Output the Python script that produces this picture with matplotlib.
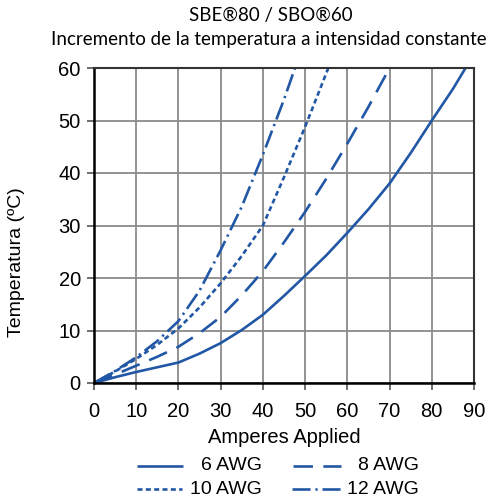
import matplotlib
matplotlib.use("Agg")
import matplotlib.pyplot as plt
from matplotlib.lines import Line2D

plt.rcParams['lines.scale_dashes'] = False

# Data
awg6_x = [0, 5, 10, 15, 20, 25, 30, 35, 40, 45, 50, 55, 60, 65, 70, 75, 80, 85, 88]
awg6_y = [0, 1.1, 2.1, 3.0, 3.9, 5.6, 7.6, 10.1, 13, 16.6, 20.4, 24.3, 28.6, 33.1, 38, 43.8, 50, 56, 60]
awg8_x = [0, 5, 10, 15, 20, 25, 30, 35, 40, 45, 50, 55, 60, 65, 70]
awg8_y = [0, 1.6, 3.3, 5.0, 6.9, 9.5, 12.6, 16.7, 21.3, 26.8, 32.6, 38.9, 45.6, 52.6, 60]
awg10_x = [0, 5, 10, 15, 20, 25, 30, 35, 40, 45, 50, 55.5]
awg10_y = [0, 2.2, 4.6, 7.3, 10.4, 14.4, 19.0, 24.2, 30, 39.2, 48.8, 60]
awg12_x = [0, 5, 10, 15, 20, 25, 30, 35, 40, 45, 47.6]
awg12_y = [0, 2.3, 4.9, 8.0, 11.8, 17.6, 25.3, 33.6, 43.5, 54, 60]
labels = ["6 AWG", "8 AWG", "10 AWG", "12 AWG"]
xticks = [0, 10, 20, 30, 40, 50, 60, 70, 80, 90]
yticks = [0, 10, 20, 30, 40, 50, 60]

W, H = 488, 503
fig = plt.figure(figsize=(W/100, H/100), dpi=100)
ax = fig.add_axes([94/W, 1-383/H, (474-94)/W, (383-68)/H])

blue = '#2257a6'
lw = 1.9
styles = [
    dict(linestyle='-'),
    dict(dashes=(14, 7.5)),
    dict(dashes=(3.6, 2.4)),
    dict(dashes=(13, 3.5, 1.6, 3.5)),
]
series = [(awg6_x, awg6_y), (awg8_x, awg8_y), (awg10_x, awg10_y), (awg12_x, awg12_y)]
for (xs, ys), st, lab in zip(series, styles, labels):
    ax.plot(xs, ys, color=blue, lw=lw, label=lab, solid_capstyle='butt',
            dash_capstyle='butt', solid_joinstyle='round', dash_joinstyle='round', **st)

ax.set_xlim(0, 90)
ax.set_ylim(0, 60)
ax.set_xticks(xticks)
ax.set_yticks(yticks)
ax.grid(True, color='#8a8a8a', lw=1.3)
ax.set_axisbelow(True)
for s in ['left', 'bottom']:
    ax.spines[s].set_linewidth(1.8)
    ax.spines[s].set_color('black')
for s in ['top', 'right']:
    ax.spines[s].set_linewidth(1.5)
    ax.spines[s].set_color('#333333')
ax.tick_params(direction='out', length=5, width=1.2, color='#555555', labelsize=14.5)
ax.tick_params(axis='x', pad=9)
ax.tick_params(axis='y', pad=4.5)
for t in ax.get_xticklabels() + ax.get_yticklabels():
    t.set_fontfamily('Liberation Sans')

ax.set_xlabel("Amperes Applied", fontsize=14.5, family='Liberation Sans', labelpad=5)

fig.text(271/W, 1-15/H, "SBE®80 / SBO®60", ha='center', va='center', fontsize=13.5, family='Lato')
fig.text(268.5/W, 1-40/H, "Incremento de la temperatura a intensidad constante", ha='center', va='center', fontsize=13.5, family='Lato')
fig.text(17/W, 1-262/H, "Temperatura (ºC)", ha='center', va='center', rotation=90, fontsize=14, family='Liberation Sans')

# Legend (manual layout)
leg_items = [
    (137, 183, 466, 262),
    (293, 341, 466, 419),
    (137, 182, 489, 262),
    (292, 341, 489, 419),
]
for (x0, x1, y, tx), st, lab in zip(leg_items, styles, labels):
    fig.add_artist(Line2D([x0/W, x1/W], [1-y/H, 1-y/H], color=blue, lw=lw,
                          solid_capstyle='butt', dash_capstyle='butt', **st))
    fig.text(tx/W, 1-y/H, lab, ha='right', va='center', fontsize=14, family='Liberation Sans')

fig.savefig("out.png", dpi=100)
